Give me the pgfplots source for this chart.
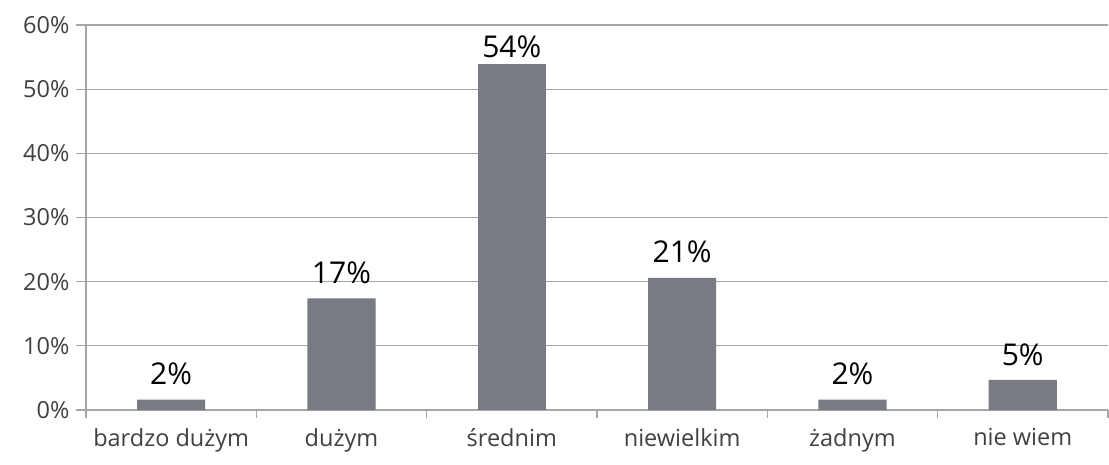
\documentclass[border=0pt]{standalone}
\usepackage{pgfplots}
\pgfplotsset{compat=1.18}
\usepackage{fontspec}
\setmainfont{Open Sans}
\definecolor{barcol}{HTML}{787B84}
\definecolor{gridcol}{HTML}{A6A6A6}
\definecolor{txtcol}{HTML}{404040}
\begin{document}
\begin{tikzpicture}[x=1pt,y=1pt]
\begin{axis}[
    at={(86pt,54pt)}, anchor=south west,
    scale only axis,
    width=1022pt, height=385pt,
    xmin=-0.5, xmax=5.5,
    ymin=0, ymax=60,
    axis x line=bottom, axis y line=left,
    axis line style={gridcol, line width=1.2pt, -},
    xtick={0,...,5},
    xticklabels={bardzo dużym,dużym,średnim,niewielkim,żadnym,nie wiem},
    minor xtick={-0.5,0.5,...,5.5},
    major x tick style={draw=none},
    minor x tick style={gridcol, line width=1.2pt},
    minor tick length=8pt,
    ytick={0,10,...,60},
    yticklabels={0\%,10\%,20\%,30\%,40\%,50\%,60\%},
    ymajorgrids,
    grid style={gridcol, line width=1.2pt},
    major y tick style={gridcol, line width=1.2pt},
    major tick length=10pt,
    tick align=outside,
    ticklabel style={font=\fontsize{23.5}{28}\selectfont, text=txtcol},
    yticklabel style={xshift=-3pt},
    xticklabel style={yshift=-5pt},
    clip=false,
    bar shift=0pt,
]
% all bars but the tallest: labels well above the bar
\addplot[ybar, bar width=0.4, fill=barcol, draw=none,
    point meta=explicit symbolic,
    nodes near coords,
    every node near coord/.append style={font=\fontsize{30}{34}\selectfont, text=black, anchor=south, yshift=11pt}]
coordinates {
    (0,1.6)  [2\%]
    (1,17.4) [17\%]
    (3,20.6) [21\%]
    (4,1.6)  [2\%]
    (5,4.7)  [5\%]
};
% tallest bar: label pushed down by the top of the plot
\addplot[ybar, bar width=0.4, fill=barcol, draw=none,
    point meta=explicit symbolic,
    nodes near coords,
    every node near coord/.append style={font=\fontsize{30}{34}\selectfont, text=black, anchor=south, yshift=2pt}]
coordinates {
    (2,54.0) [54\%]
};
\end{axis}
\pgfresetboundingbox
\path (0,0) rectangle (1109pt,464pt);
\end{tikzpicture}
\end{document}
